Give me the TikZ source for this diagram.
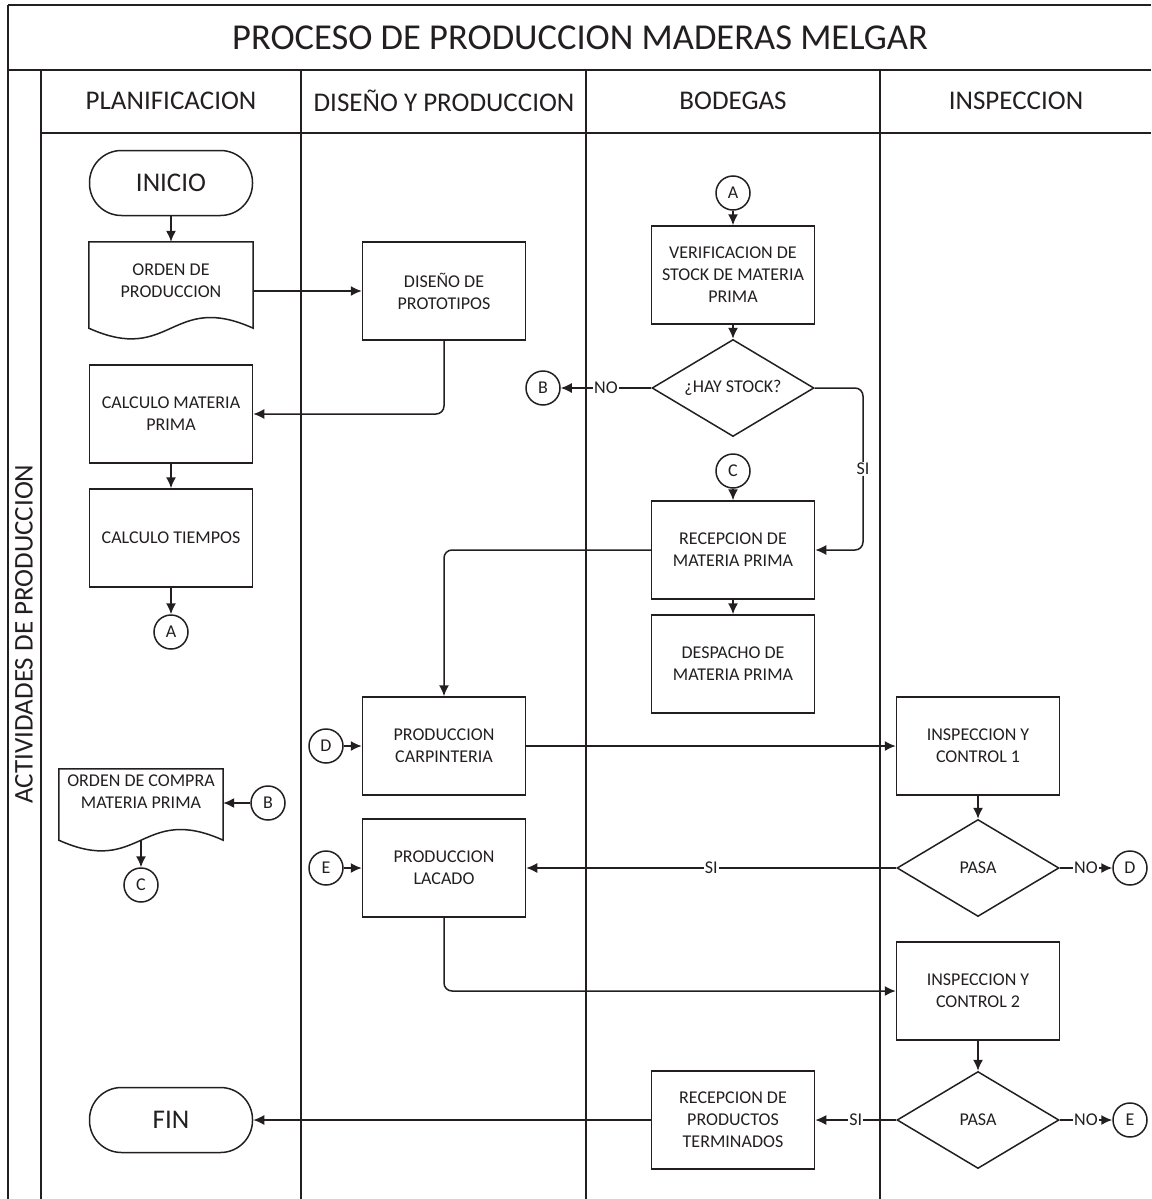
\documentclass[tikz,border=0pt]{standalone}
\usepackage{fontspec}
\setmainfont{Carlito}
\usetikzlibrary{arrows.meta,shapes.geometric,calc}

\definecolor{ink}{RGB}{35,31,32}
\newcommand{\fsz}[2]{\fontsize{#1}{#2}\selectfont}

% document symbol: rectangle with a wavy lower edge; #2 = drop of the sides below the text box
\newcommand{\docoutline}[2]{%
  \draw[draw=ink, line width=1.5pt]
    (#1.north west) -- (#1.north east) -- ([yshift=-#2]#1.south east)
    .. controls ($([yshift=-#2]#1.south)+(0pt,37pt)$) and ($([yshift=-#2]#1.south)+(0pt,-37pt)$) ..
    ([yshift=-#2]#1.south west) -- cycle;
  \coordinate (#1-w) at ([yshift=-#2]#1.south);}

\begin{document}
\begin{tikzpicture}[x=1pt,y=-1pt,
  every node/.style={text=ink},
  lane/.style={draw=ink, line width=2pt},
  box/.style={draw=ink, line width=1.5pt, rectangle, minimum width=163pt, minimum height=98pt,
    align=center, inner sep=2pt, font=\fsz{18}{22}},
  term/.style={draw=ink, line width=1.5pt, rectangle, rounded corners=32pt,
    minimum width=163pt, minimum height=65pt, font=\fsz{27}{32}},
  docnode/.style={rectangle, minimum width=164pt, align=center, inner sep=0pt, font=\fsz{18}{22}},
  decision/.style={draw=ink, line width=1.5pt, diamond, aspect=1.67, minimum width=162pt,
    minimum height=97pt, inner sep=0pt, font=\fsz{18}{22}},
  conn/.style={draw=ink, line width=1.5pt, circle, minimum size=34pt, inner sep=0pt, font=\fsz{18}{22}},
  arr/.style={draw=ink, line width=1.5pt, -{Latex[length=11pt,width=10pt]}},
  lbl/.style={fill=white, inner sep=1pt, font=\fsz{18}{22}},
  hdr/.style={font=\fsz{27}{32}},
]
\useasboundingbox (0,0) rectangle (1151,1199);

% ---- swimlane frame ----
\draw[lane, line width=2.5pt] (8,5) -- (1151,5);
\draw[lane] (8,70) -- (1151,70);
\draw[lane] (41,133) -- (1151,133);
\draw[lane] (8,5) -- (8,1199);
\draw[lane] (41,70) -- (41,1199);
\draw[lane] (301,70) -- (301,1199);
\draw[lane] (586,70) -- (586,1199);
\draw[lane] (880,70) -- (880,1199);

\node[font=\fsz{36.5}{40}] (title) at (580,38) {PROCESO DE PRODUCCION MADERAS MELGAR};
\node[hdr] (h1) at (171,101) {PLANIFICACION};
\node[hdr] (h2) at (444,101) {DISEÑO Y PRODUCCION};
\node[hdr] (h3) at (733,101) {BODEGAS};
\node[hdr] (h4) at (1016,101) {INSPECCION};
\node[hdr, rotate=90] (pool) at (24,634) {ACTIVIDADES DE PRODUCCION};

% ---- PLANIFICACION ----
\node[term] (inicio) at (171,183) {INICIO};
\node[docnode, minimum height=78pt] (orden) at (171,281) {ORDEN DE\\PRODUCCION};
\docoutline{orden}{8pt}
\node[box] (cmp) at (171,414) {CALCULO MATERIA\\PRIMA};
\node[box] (ctiempos) at (171,538) {CALCULO TIEMPOS};
\node[conn] (ca1) at (171,632) {A};
\node[docnode, minimum height=46pt] (occ) at (141,792) {ORDEN DE COMPRA\\MATERIA PRIMA};
\docoutline{occ}{25pt}
\node[conn] (cb2) at (268,803) {B};
\node[conn] (cc2) at (141,885) {C};
\node[term] (fin) at (171,1120) {FIN};

% ---- DISEÑO Y PRODUCCION ----
\node[box] (diseno) at (444,291) {DISEÑO DE\\PROTOTIPOS};
\node[box] (pc) at (444,746) {PRODUCCION\\CARPINTERIA};
\node[conn] (cd1) at (326,746) {D};
\node[box] (pl) at (444,868) {PRODUCCION\\LACADO};
\node[conn] (ce1) at (326,868) {E};

% ---- BODEGAS ----
\node[conn] (ca2) at (733,193) {A};
\node[box] (verif) at (733,275) {VERIFICACION DE\\STOCK DE MATERIA\\PRIMA};
\node[decision] (stock) at (733,388) {¿HAY STOCK?};
\node[conn] (cb1) at (543,388) {B};
\node[conn] (cc1) at (733,471) {C};
\node[box] (recep) at (733,550) {RECEPCION DE\\MATERIA PRIMA};
\node[box] (desp) at (733,664) {DESPACHO DE\\MATERIA PRIMA};
\node[box] (rpt) at (733,1120) {RECEPCION DE\\PRODUCTOS\\TERMINADOS};

% ---- INSPECCION ----
\node[box] (ic1) at (978,746) {INSPECCION Y\\CONTROL 1};
\node[decision] (pasa1) at (978,868) {PASA};
\node[conn] (cd2) at (1130,868) {D};
\node[box] (ic2) at (978,991) {INSPECCION Y\\CONTROL 2};
\node[decision] (pasa2) at (978,1120) {PASA};
\node[conn] (ce2) at (1130,1120) {E};

% ---- connectors ----
\draw[arr] (inicio) -- (orden);
\draw[arr] (orden.east |- diseno) -- (diseno);
\draw[arr, rounded corners=8pt] (diseno.south) |- (cmp.east);
\draw[arr] (cmp) -- (ctiempos);
\draw[arr] (ctiempos) -- (ca1);
\draw[arr] (cb2) -- (occ.east |- cb2);
\draw[arr] (occ-w) -- (cc2);

\draw[arr] (ca2) -- (verif);
\draw[arr] (verif) -- (stock);
\draw[arr] (stock.west) -- node[lbl]{NO} (cb1);
\coordinate (siturn) at (863,388);
\draw[arr, rounded corners=8pt] (stock.east) -- (siturn) |- node[lbl, pos=0.25]{SI} (recep.east);
\draw[arr] (cc1) -- (recep);
\draw[arr] (recep) -- (desp);
\draw[arr, rounded corners=8pt] (recep.west) -| (pc.north);

\draw[arr] (cd1) -- (pc);
\draw[arr] (pc) -- (ic1);
\draw[arr] (ic1) -- (pasa1);
\draw[arr] (pasa1.west) -- node[lbl]{SI} (pl.east);
\draw[arr] (pasa1.east) -- node[lbl]{NO} (cd2);
\draw[arr] (ce1) -- (pl);
\draw[arr, rounded corners=8pt] (pl.south) |- (ic2.west);
\draw[arr] (ic2) -- (pasa2);
\draw[arr] (pasa2.west) -- node[lbl]{SI} (rpt.east);
\draw[arr] (pasa2.east) -- node[lbl]{NO} (ce2);
\draw[arr] (rpt) -- (fin);
\end{tikzpicture}
\end{document}
